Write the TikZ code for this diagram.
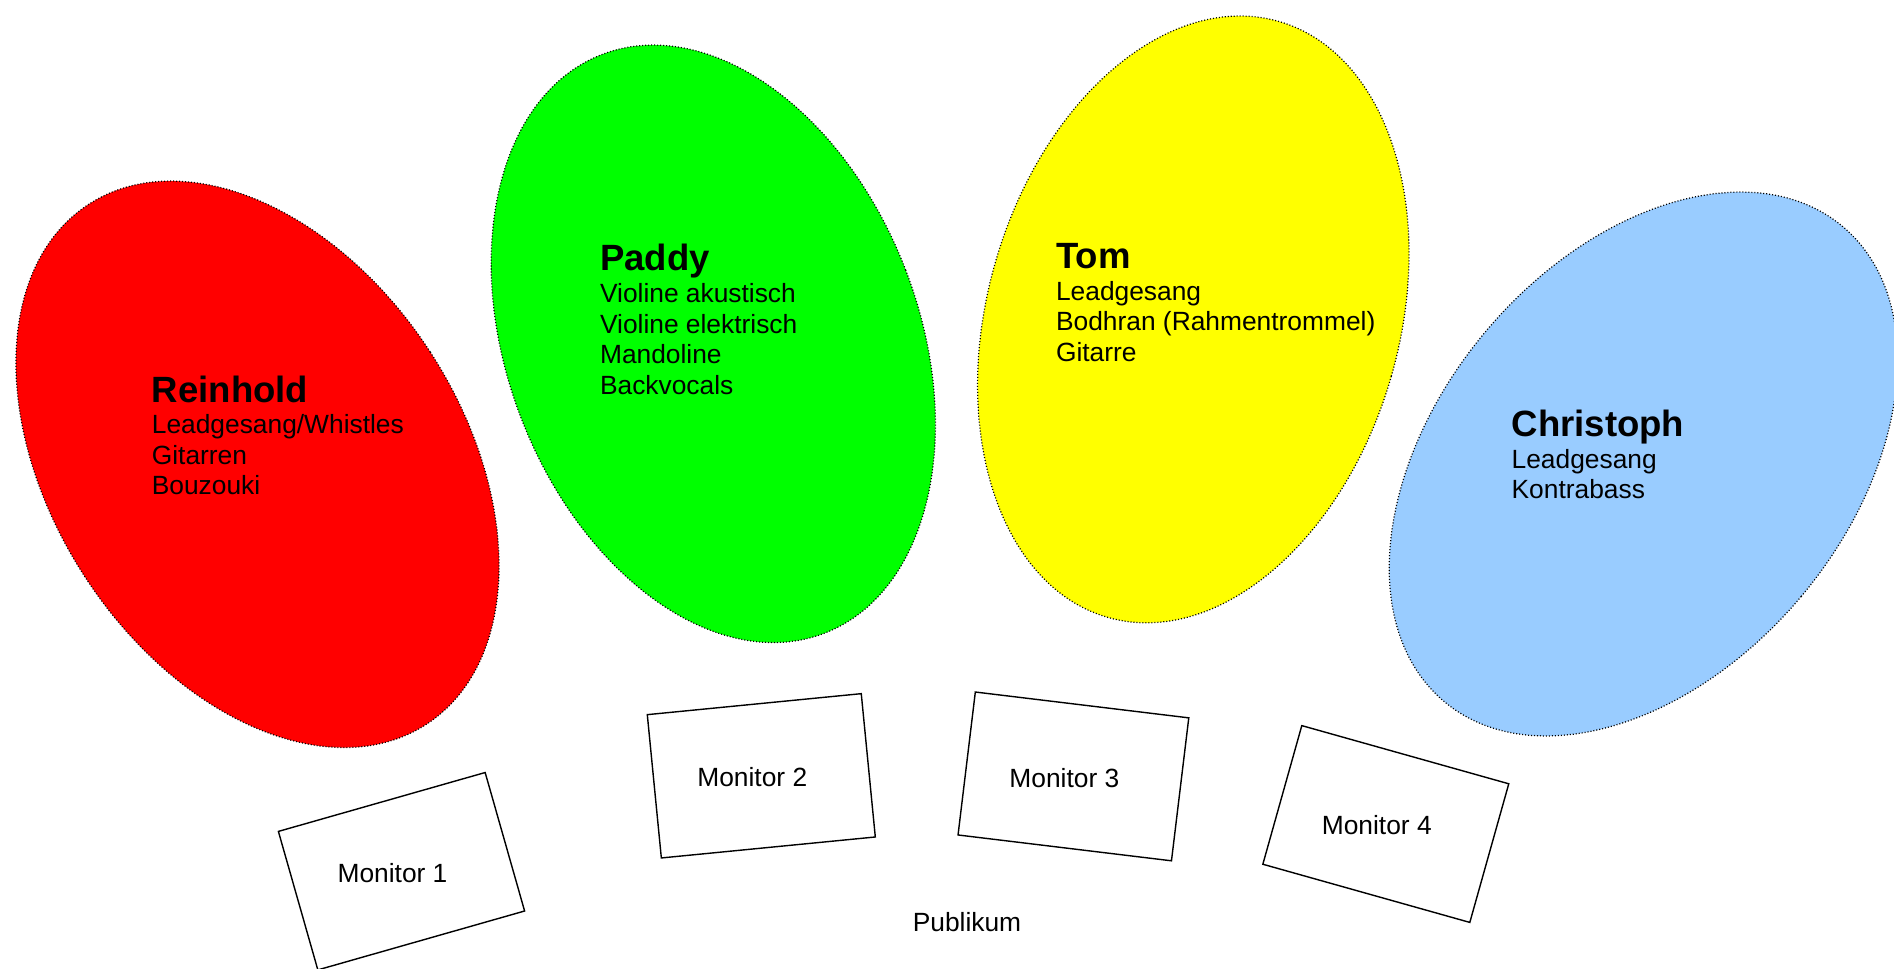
\documentclass[tikz,border=0pt]{standalone}
\usepackage{fontspec}
\setmainfont{Liberation Sans}
\usepackage{tikz}

\definecolor{memred}{HTML}{FF0000}
\definecolor{memgreen}{HTML}{00FF00}
\definecolor{memyellow}{HTML}{FFFF00}
\definecolor{memblue}{HTML}{99CCFF}

\tikzset{
	zone/.style={draw=black, line width=0.7pt, dash pattern=on 0.6pt off 1.1pt},
	monitor/.style={draw=black, line width=0.8pt},
	member/.style={anchor=north west, inner sep=0pt, align=left, font=\fontsize{15pt}{17.4pt}\selectfont},
	montext/.style={inner sep=0pt, font=\fontsize{15pt}{17.4pt}\selectfont}
}
\newcommand{\membername}[1]{{\fontsize{20.8pt}{24pt}\selectfont\bfseries #1}}

\begin{document}
\begin{tikzpicture}[x=0.02cm, y=-0.02cm]
	\useasboundingbox (0,0) rectangle (1894,968);
	\foreach \cx/\cy/\ang/\col in {257.5/464.3/33/memred, 713.3/343.8/21/memgreen, 1193.3/319.4/-16/memyellow, 1643.4/464/-40/memblue}
		\filldraw[zone, fill=\col, rotate around={\ang:(\cx,\cy)}] (\cx,\cy) ellipse [x radius=206, y radius=310];
	\node[member] (reinhold) at (151.5,375.3) {\membername{Reinhold}\\[0.6pt]Leadgesang/Whistles\\Gitarren\\Bouzouki};
	\node[member] (paddy) at (599.7,244.1) {\membername{Paddy}\\[0.6pt]Violine akustisch\\Violine elektrisch\\Mandoline\\Backvocals};
	\node[member] (tom) at (1055.7,243.2) {\membername{Tom}\\[0.6pt]Leadgesang\\Bodhran (Rahmentrommel)\\Gitarre};
	\node[member] (christoph) at (1511.3,409.8) {\membername{Christoph}\\[0.6pt]Leadgesang\\Kontrabass};
	\foreach \cx/\cy/\ang/\n in {401.5/871.2/15.9/1, 761.3/775.8/5.6/2, 1073.4/776.4/-6.9/3, 1385.8/824/-15.7/4}{
		\draw[monitor, shift={(\cx,\cy)}, rotate=\ang] (-107.5,-72) rectangle (107.5,72);
		\node[montext] (mon\n) at (\cx-9,\cy+1.5) {Monitor \n};
	}
	\node[montext] (publikum) at (967,922) {Publikum};
\end{tikzpicture}
\end{document}
